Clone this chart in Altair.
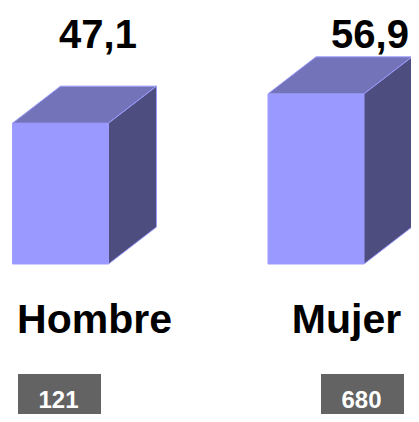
import altair as alt
import pandas as pd

# ---- data ----
categorias = ["Hombre", "Mujer"]
valores = [47.1, 56.9]
etiquetas = ["47,1", "56,9"]
casos = [121, 680]

df = pd.DataFrame({
    "cat": categorias,
    "idx": list(range(len(categorias))),
    "valor": valores,
    "etiqueta": etiquetas,
    "n": [str(v) for v in casos],
})

# ---- style / layout constants ----
W, H = 403, 406
PX_PER_CAT = 255.5          # pixels between bar centres
PX_PER_UNIT = 2.99          # pixels per value unit
X0_PX = 52.5                # centre of first bar in plot pixels
ZERO_PX = 256               # y pixel of value 0
HW = 48 / PX_PER_CAT        # half front width (x units)
DX = 48 / PX_PER_CAT        # depth x (x units)
DY = 37 / PX_PER_UNIT       # depth y (value units)

xdom = [-X0_PX / PX_PER_CAT, (W - X0_PX) / PX_PER_CAT]
ydom = [-(H - ZERO_PX) / PX_PER_UNIT, ZERO_PX / PX_PER_UNIT]

FRONT = "#9999FF"
TOP = "#7373BA"
SIDE = "#4D4D7F"
EDGE = "#9C9CFF"
FONT = "Liberation Sans"

xs = alt.Scale(domain=xdom, nice=False, zero=False)
ys = alt.Scale(domain=ydom, nice=False, zero=False)

base = alt.Chart(df)

front = base.transform_calculate(
    fx0=f"datum.idx - {HW}", fx1=f"datum.idx + {HW}"
).mark_rect(color=FRONT, stroke=EDGE, strokeWidth=1).encode(
    x=alt.X("fx0:Q", scale=xs, axis=None),
    x2="fx1:Q",
    y=alt.Y("valor:Q", scale=ys, axis=None),
    y2=alt.datum(0),
)

faces = base.transform_calculate(k="[0, 1]").transform_flatten(["k"])

top = faces.transform_calculate(
    ty=f"datum.valor + datum.k * {DY}",
    tx0=f"datum.idx - {HW} + datum.k * {DX}",
    tx1=f"datum.idx + {HW} + datum.k * {DX}",
).mark_area(orient="horizontal", color=TOP, stroke=EDGE, strokeWidth=1,
            interpolate="linear").encode(
    y=alt.Y("ty:Q", scale=ys, axis=None),
    x=alt.X("tx0:Q", scale=xs, axis=None),
    x2="tx1:Q",
    detail="cat:N",
)

side = faces.transform_calculate(
    sx=f"datum.idx + {HW} + datum.k * {DX}",
    sy1=f"datum.valor + datum.k * {DY}",
    sy0=f"datum.k * {DY}",
).mark_area(orient="vertical", color=SIDE, stroke=EDGE, strokeWidth=1,
            interpolate="linear").encode(
    x=alt.X("sx:Q", scale=xs, axis=None),
    y=alt.Y("sy1:Q", scale=ys, axis=None),
    y2="sy0:Q",
    detail="cat:N",
)

bars = alt.layer(front, top, side)


def pscale(r):
    return alt.Scale(type="point", domain=categorias, range=r, padding=0)


val_lbl = base.mark_text(font=FONT, fontSize=40, fontWeight="bold",
                         color="black", baseline="alphabetic").encode(
    x=alt.X("cat:N", scale=pscale([90, 362]), axis=None),
    y=alt.datum(72.4, scale=ys),
    text="etiqueta:N",
)

cat_lbl = base.mark_text(font=FONT, fontSize=41, fontWeight="bold",
                         color="black", baseline="alphabetic").encode(
    x=alt.X("cat:N", scale=pscale([86.5, 338.5]), axis=None),
    y=alt.datum(-23.1, scale=ys),
    text="cat:N",
)

n_box = base.mark_rect(color="#636363", xOffset=-41.5, x2Offset=41.5).encode(
    x=alt.X("cat:N", scale=pscale([51.5, 354.5]), axis=None),
    x2="cat:N",
    y=alt.datum(-36.8, scale=ys),
    y2=alt.datum(-53),
)

n_lbl = base.mark_text(font=FONT, fontSize=24, fontWeight="bold",
                       color="white", baseline="alphabetic").encode(
    x=alt.X("cat:N", scale=pscale([50.5, 353.5]), axis=None),
    y=alt.datum(-48.2, scale=ys),
    text="n:N",
)

chart = alt.layer(bars, val_lbl, cat_lbl, n_box, n_lbl).resolve_scale(
    x="independent"
).properties(
    width=W, height=H, padding=0,
    autosize=alt.AutoSizeParams(type="none"),
).configure_view(strokeWidth=0)

chart.save("out.html", embed_options={"renderer": "svg", "actions": False})
